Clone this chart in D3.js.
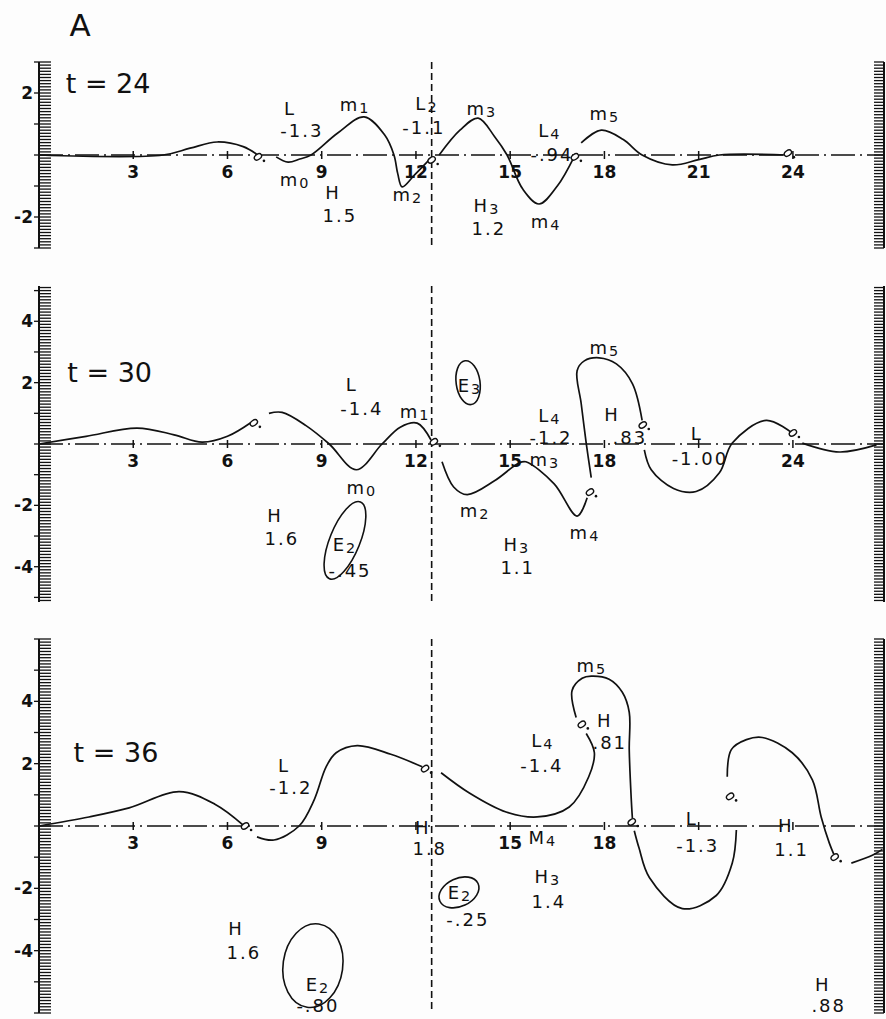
<!DOCTYPE html>
<html>
<head>
<meta charset="utf-8">
<script src="https://cdn.jsdelivr.net/npm/d3@7/dist/d3.min.js"></script>
<style>
    body { margin: 0; background: #fdfdfd; }
    svg text { font-family: "DejaVu Sans", sans-serif; fill: #111; }
</style>
</head>
<body>
<svg id="chart" width="886" height="1019"></svg>
<script>
    'use strict';

    // ---- data (x in grid units, y in field units) ----
    var titles = ['t = 24', 't = 30', 't = 36'];
    var titleAt = [[2.2, 2.32], [2.25, 2.35], [2.45, 2.39]];

    var yDomains = [[-3, 3], [-5.15, 5.15], [-6, 6]];
    var yTickLabels = [[2, -2], [4, 2, -2, -4], [4, 2, -2, -4]];
    var xTicks = [3, 6, 9, 12, 15, 18, 21, 24];
    var xTickLabels = [[3, 6, 9, 12, 15, 18, 21, 24], [3, 6, 9, 12, 15, 18, 24], [3, 6, 9, 15, 18]];
    var dividerX = 12.5;

    var t24Pieces = [
        [[0, 0], [3.95, 0], [4.81, 0.22], [5.67, 0.42], [6.5, 0.27], [6.94, 0.02]],
        [[7.55, -0.06], [7.93, -0.23], [8.3, -0.13], [8.66, 0], [9.5, 0.7], [10.35, 1.23], [11.0, 0.65],
            [11.3, 0], [11.42, -0.6], [11.56, -1.03], [11.95, -0.65], [12.42, -0.16]],
        [[12.74, 0], [13.4, 0.8], [13.98, 1.19], [14.5, 0.6], [14.9, 0], [15.4, -1.1], [15.92, -1.58],
            [16.5, -1.0], [17.04, -0.05]],
        [[17.26, 0.39], [17.9, 0.8], [18.6, 0.5], [19.2, 0], [20.16, -0.32], [21.0, -0.15], [21.66, 0], [23.8, 0]]
    ];
    var t30Pieces = [
        [[0, 0], [1.5, 0.25], [3.12, 0.52], [4.3, 0.3], [5.19, 0.06], [6.0, 0.25], [6.75, 0.7]],
        [[7.32, 1.0], [7.74, 1.03], [8.5, 0.6], [9.24, 0], [10.1, -0.84], [10.92, 0], [11.5, 0.55],
            [12.04, 0.68], [12.48, 0.13]],
        [[12.83, -0.58], [13.2, -1.4], [13.63, -1.65], [14.5, -1.2], [15.29, -0.61], [15.5, -0.58],
            [16.4, -1.3], [17.13, -2.35], [17.45, -1.75]],
        [[17.58, -1.1], [17.42, 0.03], [17.26, 1.32], [17.13, 2.39], [17.36, 2.71], [17.83, 2.81],
            [18.38, 2.61], [18.89, 1.97], [19.2, 0.77]],
        [[19.27, -0.19], [19.49, -0.84], [20.2, -1.45], [20.92, -1.55], [21.66, -0.94], [22.07, 0.03],
            [23.15, 0.77], [23.98, 0.35]],
        [[24.3, 0.03], [25.48, -0.26], [26.66, -0.03]]
    ];
    var t36Pieces = [
        [[0, 0], [1.59, 0.29], [2.87, 0.58], [4.46, 1.1], [5.6, 0.7], [6.5, 0.03]],
        [[6.94, -0.35], [7.48, -0.45], [8.28, 0], [8.76, 0.84], [9.14, 1.9], [9.46, 2.35], [10.13, 2.58],
            [11.2, 2.3], [12.2, 1.9]],
        [[12.8, 1.71], [13.7, 1.06], [14.87, 0.45], [15.86, 0.29], [16.88, 0.61], [17.5, 1.58],
            [17.68, 2.35], [17.42, 2.97]],
        [[17.1, 3.48], [16.97, 4.35], [17.29, 4.74], [17.58, 4.81], [18.15, 4.71], [18.57, 4.29],
            [18.79, 3.65], [18.79, 2.45], [18.85, 0.94], [18.89, 0.25]],
        [[18.95, -0.15], [19.1, -0.7], [19.43, -1.65], [20.48, -2.65], [21.56, -2.23], [22.07, -1.19],
            [22.2, -0.13]],
        [[21.91, 1.58], [22.04, 2.45], [22.52, 2.77], [23.03, 2.84], [23.98, 2.35], [24.62, 1.48],
            [24.9, 0.29], [25.16, -0.55], [25.3, -0.9]],
        [[25.86, -1.19], [26.53, -0.94], [26.85, -0.75]]
    ];

    // break markers ("o.")
    var t24Marks = [[6.97, -0.06], [12.5, -0.16], [17.06, -0.06], [23.84, 0.06]];
    var t30Marks = [[6.84, 0.69], [12.57, 0.07], [17.54, -1.57], [19.22, 0.62], [24.0, 0.36]];
    var t36Marks = [[6.56, 0], [12.29, 1.84], [17.28, 3.26], [18.87, 0.13], [22.0, 0.95], [25.33, -1.0]];

    // closed contours [cx, cy, rx, ry, tilt]
    var t24Loops = [];
    var t30Loops = [[13.66, 2.0, 0.38, 0.72, -8], [9.74, -3.14, 0.48, 1.35, 22]];
    var t36Loops = [[8.72, -4.48, 0.95, 1.35, 8], [13.37, -2.13, 0.67, 0.45, -25]];

    var t24Labels = [
        [7.99, 1.52, 'L'], [8.37, 0.81, '-1.3'], [10.06, 1.65, 'm_1'], [8.15, -0.78, 'm_0'],
        [9.36, -1.2, 'H'], [9.58, -1.93, '1.5'], [11.74, -1.25, 'm_2'], [12.35, 1.68, 'L_2'],
        [12.25, 0.9, '-1.1'], [14.1, 1.52, 'm_3'], [16.26, 0.8, 'L_4'], [16.33, 0.02, '-.94'],
        [18.01, 1.35, 'm_5'], [14.26, -1.6, 'H_3'], [14.32, -2.35, '1.2'], [16.14, -2.12, 'm_4']
    ];
    var t30Labels = [
        [9.96, 1.96, 'L'], [10.28, 1.18, '-1.4'], [11.97, 1.08, 'm_1'], [10.28, -1.4, 'm_0'],
        [7.51, -2.32, 'H'], [7.73, -3.07, '1.6'], [9.74, -3.25, 'E_2'], [9.9, -4.1, '-.45'],
        [13.72, 1.93, 'E_3'], [16.26, 0.95, 'L_4'], [16.3, 0.23, '-1.2'], [16.1, -0.48, 'm_3'],
        [13.88, -2.15, 'm_2'], [17.38, -2.87, 'm_4'], [18.01, 3.17, 'm_5'], [18.24, 0.98, 'H'],
        [18.81, 0.23, '.83'], [20.94, 0.36, 'L'], [21.04, -0.46, '-1.00'], [15.21, -3.25, 'H_3'],
        [15.24, -4.0, '1.1']
    ];
    var t36Labels = [
        [7.8, 1.97, 'L'], [8.02, 1.26, '-1.2'], [6.27, -3.26, 'H'], [6.52, -4.03, '1.6'],
        [8.88, -5.08, 'E_2'], [8.88, -5.75, '-.80'], [12.22, -0.03, 'H'], [12.44, -0.71, '1.8'],
        [13.4, -2.12, 'E_2'], [13.65, -2.98, '-.25'], [16.04, 2.75, 'L_4'], [16.01, 1.97, '-1.4'],
        [17.6, 5.15, 'm_5'], [18.01, 3.39, 'H'], [18.17, 2.71, '.81'], [16.04, -0.36, 'M_4'],
        [20.78, 0.26, 'L'], [20.97, -0.61, '-1.3'], [23.77, 0.03, 'H'], [23.96, -0.74, '1.1'],
        [16.2, -1.6, 'H_3'], [16.23, -2.4, '1.4'], [24.95, -5.06, 'H'], [25.14, -5.74, '.88']
    ];

    // ---- layout ----
    var LEFT = 39;
    var RIGHT = 884;
    var PANEL_RANGES = [[248, 62], [602, 286], [1013, 639]];
    var INK = '#111';

    var svg = d3.select('#chart');
    var x = d3.scaleLinear().domain([0, 26.9]).range([LEFT, RIGHT]);

    var panels = [
        {pieces: t24Pieces, marks: t24Marks, loops: t24Loops, labels: t24Labels},
        {pieces: t30Pieces, marks: t30Marks, loops: t30Loops, labels: t30Labels},
        {pieces: t36Pieces, marks: t36Marks, loops: t36Loops, labels: t36Labels}
    ];

    svg.append('text')
        .attr('x', 80).attr('y', 36)
        .attr('text-anchor', 'middle')
        .attr('font-size', 31)
        .text('A');

    function addLabel(g, px, py, str, size, spacing) {
        var parts = str.split('_');
        var t = g.append('text')
            .attr('x', px).attr('y', py)
            .attr('text-anchor', 'middle')
            .attr('dominant-baseline', 'central')
            .attr('letter-spacing', spacing)
            .attr('font-size', size);
        t.append('tspan').text(parts[0]);
        if (parts[1]) {
            t.append('tspan').attr('dy', 4).attr('font-size', size * 0.8).text(parts[1]);
        }
        return t;
    }

    function renderPanel(p, i) {
        var y = d3.scaleLinear().domain(yDomains[i]).range(PANEL_RANGES[i]);
        var g = svg.append('g');
        var y0 = y(0);
        var top = PANEL_RANGES[i][1];
        var bottom = PANEL_RANGES[i][0];

        // left axis with 0.1 minor ticks
        var minor = d3.range(Math.ceil(yDomains[i][0] * 10), Math.floor(yDomains[i][1] * 10) + 1);
        g.append('line')
            .attr('x1', LEFT).attr('x2', LEFT).attr('y1', top).attr('y2', bottom)
            .attr('stroke', INK).attr('stroke-width', 2);
        g.selectAll('line.lt').data(minor).enter().append('line')
            .attr('x1', function (d) { return d % 10 === 0 ? LEFT - 5 : LEFT; })
            .attr('x2', LEFT + 12)
            .attr('y1', function (d) { return y(d / 10); })
            .attr('y2', function (d) { return y(d / 10); })
            .attr('stroke', INK).attr('stroke-width', 1.3);
        g.selectAll('text.yl').data(yTickLabels[i]).enter().append('text')
            .attr('x', LEFT - 6).attr('y', function (d) { return y(d); })
            .attr('text-anchor', 'end')
            .attr('dominant-baseline', 'central')
            .attr('font-size', 17).attr('font-weight', 'bold')
            .text(function (d) { return d; });

        // right axis
        g.append('line')
            .attr('x1', RIGHT).attr('x2', RIGHT).attr('y1', top).attr('y2', bottom)
            .attr('stroke', INK).attr('stroke-width', 2);
        g.selectAll('line.rt').data(minor).enter().append('line')
            .attr('x1', RIGHT - 10).attr('x2', RIGHT)
            .attr('y1', function (d) { return y(d / 10); })
            .attr('y2', function (d) { return y(d / 10); })
            .attr('stroke', INK).attr('stroke-width', 1.3);

        // dash-dot zero line + ticks
        g.append('line')
            .attr('x1', LEFT).attr('x2', RIGHT).attr('y1', y0).attr('y2', y0)
            .attr('stroke', INK).attr('stroke-width', 1.6)
            .attr('stroke-dasharray', '24,5,2,5');
        g.selectAll('line.xt').data(xTicks).enter().append('line')
            .attr('x1', x).attr('x2', x)
            .attr('y1', y0 - 4).attr('y2', y0 + 4)
            .attr('stroke', INK).attr('stroke-width', 1.5);
        g.selectAll('text.xl').data(xTickLabels[i]).enter().append('text')
            .attr('x', x).attr('y', y0 + 23)
            .attr('text-anchor', 'middle')
            .attr('font-size', 17).attr('font-weight', 'bold')
            .text(function (d) { return d; });

        // dashed divider
        g.append('line')
            .attr('x1', x(dividerX)).attr('x2', x(dividerX))
            .attr('y1', top).attr('y2', bottom)
            .attr('stroke', INK).attr('stroke-width', 1.6)
            .attr('stroke-dasharray', '7,4');

        // curve pieces
        var line = d3.line()
            .x(function (d) { return x(d[0]); })
            .y(function (d) { return y(d[1]); })
            .curve(d3.curveCatmullRom.alpha(0.5));
        g.selectAll('path.piece').data(p.pieces).enter().append('path')
            .attr('d', line)
            .attr('fill', 'none').attr('stroke', INK).attr('stroke-width', 1.7);

        // closed loops
        g.selectAll('ellipse.loop').data(p.loops).enter().append('ellipse')
            .attr('cx', 0).attr('cy', 0)
            .attr('rx', function (d) { return x(d[2]) - x(0); })
            .attr('ry', function (d) { return y(0) - y(d[3]); })
            .attr('transform', function (d) {
                return 'translate(' + x(d[0]) + ',' + y(d[1]) + ') rotate(' + d[4] + ')';
            })
            .attr('fill', 'none').attr('stroke', INK).attr('stroke-width', 1.6);

        // break markers
        var mk = g.selectAll('g.mark').data(p.marks).enter().append('g')
            .attr('transform', function (d) { return 'translate(' + x(d[0]) + ',' + y(d[1]) + ')'; });
        mk.append('ellipse')
            .attr('rx', 4).attr('ry', 2.6)
            .attr('transform', 'rotate(-35)')
            .attr('fill', '#fdfdfd').attr('stroke', INK).attr('stroke-width', 1.4);
        mk.append('circle')
            .attr('cx', 6).attr('cy', 4).attr('r', 1.3)
            .attr('fill', INK);

        // annotations
        p.labels.forEach(function (d) {
            addLabel(g, x(d[0]), y(d[1]), d[2], 18, 2);
        });
        addLabel(g, x(titleAt[i][0]), y(titleAt[i][1]), titles[i], 27, 0);
    }

    panels.forEach(renderPanel);
</script>
</body>
</html>
